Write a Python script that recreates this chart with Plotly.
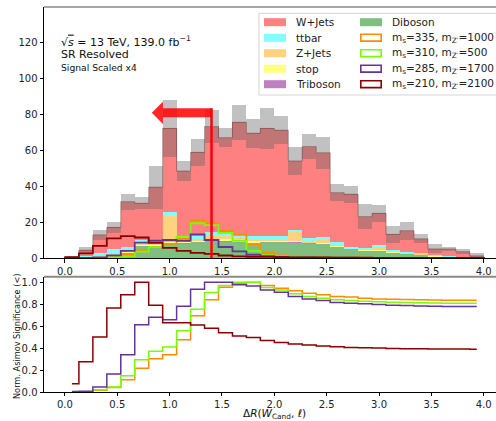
import numpy as np
import plotly.graph_objects as go

# ---------------- data ----------------
bin_lo, bin_hi, n_bins = 0.0, 4.0, 30
edges = np.linspace(bin_lo, bin_hi, n_bins + 1)
centers = 0.5 * (edges[:-1] + edges[1:])
bw = edges[1] - edges[0]

diboson = [0.1,0.3,0.6,1.7,3.0,6.8,7.0,8.0,8.3,9.0,9.6,9.3,9.0,8.6,9.0,9.2,8.7,8.2,7.8,6.3,5.0,4.3,4.0,3.2,2.5,1.9,1.0,0.8,0.5,0.2]
triboson = [0,0.02,0.05,0.05,0.1,0.15,0.15,0.2,0.2,0.2,0.25,0.25,0.25,0.2,0.2,0.2,0.2,0.15,0.15,0.15,0.1,0.1,0.1,0.08,0.06,0.05,0.04,0.03,0.02,0.01]
stop = [0.02,0.1,0.2,0.3,0.4,0.5,0.5,0.6,0.7,0.7,0.8,0.8,0.7,0.6,0.6,0.5,0.5,0.45,0.4,0.35,0.3,0.25,0.2,0.15,0.12,0.1,0.08,0.05,0.04,0.02]
zjets = [0.1,0.3,1.0,0.95,1.3,1.45,0.8,14.5,1.0,0.9,2.1,1.85,1.25,1.4,1.0,0.9,4.8,0.8,1.85,0.8,0.1,0.15,2.0,0.3,0.2,0.2,0.2,0.1,0.05,0.02]
ttbar = [0.1,0.4,0.8,1.8,1.5,1.1,1.0,2.4,1.3,1.4,1.6,1.5,1.6,1.6,1.6,1.6,1.4,1.5,1.2,1.1,0.6,0.5,1.1,0.5,0.5,0.4,0.3,0.2,0.1,0.05]
wjets = [0.4,3.2,10.2,12.2,25.0,20.4,29.9,46.3,36.8,46.5,58.7,53.2,62.6,56.9,59.6,58.6,38.3,50.8,47.1,27.6,29.3,17.7,17.4,8.9,11.8,8.0,3.4,3.8,2.8,0.9]
bkg_err = [0.5,1.6,2.7,3.1,4.4,3.3,12.0,16.0,5.6,7.4,9.2,5.1,9.6,7.9,11.5,7.9,7.6,7.0,8.9,4.6,4.6,7.0,4.6,4.9,5.0,2.5,2.5,1.1,1.3,1.8]

# signals (scaled x4)
sig_335_1000 = [0,0,0.1,0.3,1.8,4.2,6.0,7.8,10.8,20.9,19.3,15.0,12.8,7.6,2.8,1.5,0.7,0.4,0.3,0.25,0.2,0.15,0.1,0.08,0.06,0.05,0.04,0.03,0.02,0.01]
sig_310_500 = [0,0,0.1,0.3,0.9,3.5,6.0,9.5,11.8,19.3,18.3,14.0,9.5,4.0,1.5,0.9,0.6,0.4,0.3,0.2,0.15,0.1,0.08,0.06,0.05,0.04,0.03,0.02,0.01,0.01]
sig_285_1700 = [0,0.1,0.4,1.5,4.0,8.5,9.6,10.0,9.6,13.1,10.0,6.1,3.7,1.9,1.0,0.6,0.4,0.3,0.25,0.2,0.15,0.12,0.1,0.08,0.06,0.05,0.04,0.03,0.02,0.01]
sig_210_2100 = [0.3,2.6,6.7,10.9,12.2,11.4,8.4,5.6,4.0,2.8,2.3,1.4,0.9,0.7,0.6,0.5,0.4,0.35,0.3,0.25,0.2,0.15,0.12,0.1,0.08,0.06,0.05,0.03,0.02,0.01]

# normalised cumulative Asimov significance
z_335_1000 = [0,0.002,0.015,0.04,0.112,0.217,0.303,0.339,0.476,0.694,0.839,0.954,0.985,1.0,0.97,0.945,0.921,0.9,0.885,0.87,0.864,0.854,0.848,0.845,0.842,0.84,0.838,0.836,0.836,0.836]
z_310_500 = [0,0.003,0.02,0.045,0.148,0.294,0.37,0.409,0.557,0.754,0.906,0.97,1.0,0.997,0.951,0.93,0.894,0.87,0.854,0.839,0.833,0.827,0.821,0.818,0.815,0.813,0.811,0.809,0.809,0.809]
z_285_1700 = [0.005,0.006,0.045,0.164,0.339,0.612,0.68,0.657,0.78,0.936,1.0,1.0,0.976,0.966,0.93,0.909,0.87,0.848,0.833,0.815,0.809,0.803,0.797,0.79,0.787,0.784,0.781,0.779,0.779,0.779]
z_210_2100 = [0.075,0.275,0.5,0.765,0.885,1.0,0.79,0.63,0.63,0.61,0.58,0.54,0.51,0.497,0.469,0.451,0.436,0.427,0.418,0.412,0.406,0.403,0.4,0.397,0.395,0.393,0.392,0.391,0.391,0.39]

bkg_names = ["W+Jets", "ttbar", "Z+Jets", "stop", "Triboson", "Diboson"]
bkg_values = [wjets, ttbar, zjets, stop, triboson, diboson]
bkg_colors = ["#ff8080", "#80ffff", "#ffd280", "#ffff80", "#bf80bf", "#80bf80"]

sig_names = ["m<sub>s</sub>=335, m<sub>Z′</sub>=1000", "m<sub>s</sub>=310, m<sub>Z′</sub>=500",
             "m<sub>s</sub>=285, m<sub>Z′</sub>=1700", "m<sub>s</sub>=210, m<sub>Z′</sub>=2100"]
sig_values = [sig_335_1000, sig_310_500, sig_285_1700, sig_210_2100]
sig_z = [z_335_1000, z_310_500, z_285_1700, z_210_2100]
sig_colors = ["#ff8c00", "#7cfc00", "#663399", "#8b0000"]

cut_value = 1.4
arrow_tip = 0.83
arrow_head_base = 0.936
arrow_y = 80.7
arrow_half_shaft = 2.5
arrow_half_head = 6.2

# ---------------- geometry helpers ----------------
W, H = 496, 421
ML, MR, MT, MB = 44, 0, 7, 29
PW, PH = W - ML - MR, H - MT - MB
def px(x): return (x - ML) / PW
def py(y): return 1 - (y - MT) / PH

FONT = "DejaVu Sans"
fig = go.Figure()

# stacked backgrounds (bottom = Diboson)
order = list(range(len(bkg_names)))[::-1]
base = np.zeros(n_bins)
for i in order:
    v = np.array(bkg_values[i], dtype=float)
    fig.add_trace(go.Bar(x=centers, y=v, base=base.copy(), width=bw,
                         marker=dict(color=bkg_colors[i], line=dict(width=0)),
                         name=bkg_names[i], showlegend=False, xaxis="x", yaxis="y"))
    base = base + v
total = base
err = np.array(bkg_err)
lo = np.clip(total - err, 0, None)
fig.add_trace(go.Bar(x=centers, y=(total + err) - lo, base=lo, width=bw,
                     marker=dict(color="rgba(100,100,100,0.4)", line=dict(width=0)),
                     showlegend=False, xaxis="x", yaxis="y"))
# total outline
fig.add_trace(go.Scatter(x=list(edges), y=list(total) + [total[-1]], mode="lines",
                         line=dict(shape="hv", color="rgba(110,70,70,0.55)", width=1),
                         showlegend=False, xaxis="x", yaxis="y"))

# signal step outlines
for vals, col in zip(sig_values, sig_colors):
    yy = [0] + list(vals) + [vals[-1], 0]
    xx = [edges[0]] + list(edges) + [edges[-1]]
    fig.add_trace(go.Scatter(x=xx, y=yy, mode="lines",
                             line=dict(shape="hv", color=col, width=1.8),
                             showlegend=False, xaxis="x", yaxis="y"))

# cut line
fig.add_trace(go.Scatter(x=[cut_value, cut_value], y=[0, arrow_y + arrow_half_shaft], mode="lines",
                         line=dict(color="#ff0000", width=2.5), showlegend=False,
                         xaxis="x", yaxis="y"))

# significance panel
for vals, col in zip(sig_z, sig_colors):
    fig.add_trace(go.Scatter(x=centers, y=vals, mode="lines",
                             line=dict(shape="hvh", color=col, width=1.5),
                             showlegend=False, xaxis="x2", yaxis="y2"))

shapes = []
# arrow
path = (f"M {cut_value},{arrow_y - arrow_half_shaft} L {arrow_head_base},{arrow_y - arrow_half_shaft} "
        f"L {arrow_head_base},{arrow_y - arrow_half_head} L {arrow_tip},{arrow_y} "
        f"L {arrow_head_base},{arrow_y + arrow_half_head} L {arrow_head_base},{arrow_y + arrow_half_shaft} "
        f"L {cut_value},{arrow_y + arrow_half_shaft} Z")
shapes.append(dict(type="path", path=path, xref="x", yref="y",
                   fillcolor="rgba(255,0,0,0.85)", line=dict(width=0)))
# top spines (grey)
shapes.append(dict(type="line", xref="x domain", yref="y domain", x0=0, x1=1, y0=1, y1=1,
                   line=dict(color="#8a8a8a", width=1.5)))
shapes.append(dict(type="line", xref="x2 domain", yref="y2 domain", x0=0, x1=1, y0=1, y1=1,
                   line=dict(color="#8a8a8a", width=2)))

# manual legend
shapes.append(dict(type="rect", xref="paper", yref="paper", x0=px(259), x1=px(505),
                   y0=py(95), y1=py(13.3), fillcolor="rgba(255,255,255,0.8)",
                   line=dict(color="#d5d5d5", width=1)))
annotations = []
row_y0, row_dy = 22.2, 15.5
col_sw = [264, 360]
col_tx = [294, 390]
entries = [(n, c, False) for n, c in zip(bkg_names[:5], bkg_colors[:5])]
entries += [(bkg_names[5], bkg_colors[5], False)] + [(n, c, True) for n, c in zip(sig_names, sig_colors)]
for k, (name, col, hollow) in enumerate(entries):
    c = k // 5
    r = k % 5
    yc = row_y0 + r * row_dy
    if hollow:
        shapes.append(dict(type="rect", xref="paper", yref="paper", x0=px(col_sw[c] + 0.8),
                           x1=px(col_sw[c] + 21.2), y0=py(yc + 3.4), y1=py(yc - 3.4),
                           fillcolor="white", line=dict(color=col, width=1.6)))
    else:
        shapes.append(dict(type="rect", xref="paper", yref="paper", x0=px(col_sw[c]),
                           x1=px(col_sw[c] + 22), y0=py(yc + 4), y1=py(yc - 4),
                           fillcolor=col, line=dict(width=0)))
    annotations.append(dict(x=px(col_tx[c]), y=py(yc), xref="paper", yref="paper",
                            text=name, showarrow=False, xanchor="left", yanchor="middle",
                            font=dict(family=FONT, size=10.5, color="#222")))

# info text
annotations.append(dict(x=px(59), y=py(41), xref="paper", yref="paper", showarrow=False,
                        xanchor="left", yanchor="middle",
                        text="√<span style='text-decoration:overline'><i>s</i></span> = 13 TeV, 139.0 fb<sup>−1</sup>",
                        font=dict(family=FONT, size=11, color="#111")))
annotations.append(dict(x=px(59), y=py(54), xref="paper", yref="paper", showarrow=False,
                        xanchor="left", yanchor="middle", text="SR Resolved",
                        font=dict(family=FONT, size=11, color="#111")))
annotations.append(dict(x=px(59), y=py(67), xref="paper", yref="paper", showarrow=False,
                        xanchor="left", yanchor="middle", text="Signal Scaled x4",
                        font=dict(family=FONT, size=9.2, color="#111")))
# axis titles
annotations.append(dict(x=px(274), y=py(414), xref="paper", yref="paper", showarrow=False,
                        xanchor="center", yanchor="middle", borderpad=0,
                        text="Δ<i>R</i>(<i>W</i><sub>Cand</sub>, <i>ℓ</i>)",
                        font=dict(family=FONT, size=10.5, color="#111")))
annotations.append(dict(x=px(17), y=py(336), xref="paper", yref="paper", showarrow=False,
                        xanchor="center", yanchor="middle", textangle=-90,
                        text="Norm. Asimov Significance (<)",
                        font=dict(family=FONT, size=8.2, color="#111")))

xr = [-0.2, -0.2 + PW / 104.7]
axis_common = dict(showline=True, linecolor="black", linewidth=1, ticks="outside",
                   tickwidth=0.8, tickcolor="black", showgrid=False,
                   zeroline=False, tickfont=dict(family=FONT, size=10, color="#222"))
top_bottom = py(258)
bot_top = py(276.7)
tv = [0, 0.5, 1, 1.5, 2, 2.5, 3, 3.5, 4]
tt = ["0.0", "0.5", "1.0", "1.5", "2.0", "2.5", "3.0", "3.5", "4.0"]
fig.update_layout(
    width=W, height=H, margin=dict(l=ML, r=MR, t=MT, b=MB),
    paper_bgcolor="white", plot_bgcolor="white",
    barmode="overlay", bargap=0, showlegend=False,
    shapes=shapes, annotations=annotations,
    xaxis=dict(domain=[0, 1], range=xr, anchor="y", tickvals=tv, ticktext=tt, ticklen=3.5, **axis_common),
    yaxis=dict(domain=[top_bottom, 1], range=[0, 139.5], anchor="x", ticklen=3.5,
               tickvals=[0, 20, 40, 60, 80, 100, 120], **axis_common),
    xaxis2=dict(domain=[0, 1], range=xr, anchor="y2", tickvals=tv, ticktext=tt, ticklen=2.5, **axis_common),
    yaxis2=dict(domain=[0, bot_top], range=[0, 1.05], anchor="x2", ticklen=3.5,
                tickvals=[0, 0.2, 0.4, 0.6, 0.8, 1.0],
                ticktext=["0.0", "0.2", "0.4", "0.6", "0.8", "1.0"], **axis_common),
)
fig.write_html("out.html")
